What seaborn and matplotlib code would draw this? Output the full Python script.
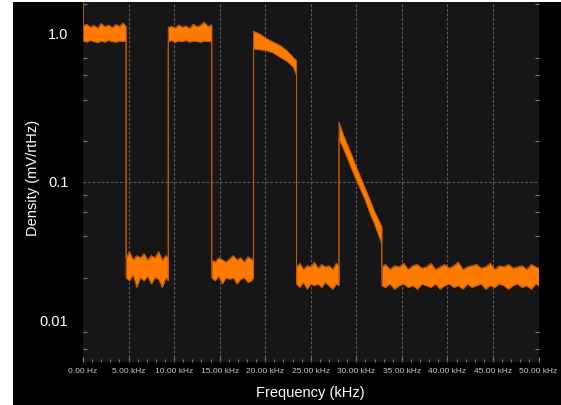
import matplotlib
matplotlib.use("Agg")
import matplotlib.pyplot as plt
import matplotlib.transforms as mtransforms
from matplotlib.patches import Rectangle
from matplotlib.ticker import LogLocator, MultipleLocator, NullFormatter, FixedLocator
import pandas as pd
import seaborn as sns

# ---- data (frequency in kHz, density in mV/rtHz) ----
freq_khz = [
    0.00, 0.03, 0.40, 0.80, 1.20, 1.60, 2.00, 2.40, 2.80, 3.20, 3.60, 4.00, 4.40, 4.73,
    4.73, 5.10, 5.50, 5.90, 6.30, 6.70, 7.10, 7.50, 7.90, 8.30, 8.70, 9.10, 9.36,
    9.36, 9.70, 10.10, 10.50, 10.90, 11.30, 11.70, 12.10, 12.50, 12.90, 13.30, 13.70, 14.13,
    14.13, 14.50, 14.90, 15.30, 15.70, 16.10, 16.50, 16.90, 17.30, 17.70, 18.10, 18.50, 18.72,
    18.72, 19.45, 20.18, 20.91, 21.65, 22.38, 23.11, 23.44,
    23.44, 23.80, 24.20, 24.60, 25.00, 25.40, 25.80, 26.20, 26.60, 27.00, 27.40, 27.80, 28.10,
    28.10, 28.50, 29.00, 29.50, 30.00, 30.50, 31.00, 31.50, 32.00, 32.50, 32.80,
    32.80, 33.20, 33.70, 34.20, 34.70, 35.20, 35.70, 36.20, 36.70, 37.20, 37.70, 38.20,
    38.70, 39.20, 39.70, 40.20, 40.70, 41.20, 41.70, 42.20, 42.70, 43.20, 43.70, 44.20,
    44.70, 45.20, 45.70, 46.20, 46.70, 47.20, 47.70, 48.20, 48.70, 49.20, 49.70, 50.00,
]
upper_mv = [
    3.00, 1.38, 1.42, 1.35, 1.39, 1.33, 1.44, 1.36, 1.40, 1.34, 1.41, 1.37, 1.45, 1.36,
    0.028, 0.031, 0.027, 0.029, 0.028, 0.030, 0.027, 0.029, 0.028, 0.031, 0.027, 0.029, 0.028,
    1.34, 1.37, 1.33, 1.40, 1.35, 1.38, 1.32, 1.42, 1.36, 1.39, 1.47, 1.37, 1.40,
    0.027, 0.026, 0.028, 0.027, 0.026, 0.0275, 0.029, 0.027, 0.028, 0.026, 0.0285, 0.027, 0.028,
    1.26, 1.20, 1.11, 1.05, 0.99, 0.91, 0.81, 0.77,
    0.024, 0.0255, 0.023, 0.0245, 0.024, 0.026, 0.0235, 0.025, 0.024, 0.0245, 0.023, 0.0255, 0.024,
    0.275, 0.228, 0.189, 0.157, 0.129, 0.107, 0.089, 0.074, 0.061, 0.052, 0.047,
    0.024, 0.025, 0.023, 0.0245, 0.024, 0.0255, 0.023, 0.0245, 0.025, 0.0235, 0.024, 0.0255,
    0.023, 0.024, 0.025, 0.0235, 0.0245, 0.026, 0.023, 0.024, 0.0245, 0.025, 0.0235, 0.024,
    0.0255, 0.023, 0.0245, 0.024, 0.025, 0.0235, 0.024, 0.0245, 0.023, 0.025, 0.024, 0.0235,
]
lower_mv = [
    3.00, 1.07, 1.05, 1.08, 1.06, 1.04, 1.07, 1.05, 1.08, 1.06, 1.05, 1.07, 1.06, 1.07,
    0.020, 0.019, 0.021, 0.017, 0.020, 0.019, 0.0205, 0.018, 0.020, 0.0195, 0.017, 0.020, 0.019,
    1.06, 1.08, 1.05, 1.07, 1.06, 1.08, 1.05, 1.07, 1.06, 1.05, 1.07, 1.06, 1.07,
    0.020, 0.019, 0.0205, 0.018, 0.020, 0.0195, 0.020, 0.018, 0.0195, 0.020, 0.0185, 0.019, 0.020,
    0.935, 0.924, 0.909, 0.874, 0.813, 0.760, 0.688, 0.597,
    0.018, 0.017, 0.0185, 0.0165, 0.018, 0.0175, 0.018, 0.017, 0.0185, 0.0175, 0.0165, 0.018, 0.0175,
    0.206, 0.180, 0.150, 0.124, 0.103, 0.087, 0.073, 0.059, 0.049, 0.040, 0.035,
    0.0175, 0.017, 0.018, 0.0165, 0.0175, 0.018, 0.017, 0.0175, 0.0165, 0.018, 0.0175, 0.017,
    0.018, 0.0165, 0.0175, 0.018, 0.017, 0.0175, 0.0165, 0.018, 0.017, 0.0175, 0.018, 0.0165,
    0.0175, 0.017, 0.018, 0.0175, 0.0165, 0.0175, 0.018, 0.017, 0.0175, 0.0165, 0.018, 0.0175,
]

x_tick_values = [0, 5, 10, 15, 20, 25, 30, 35, 40, 45, 50]
x_tick_labels = ["0.00 Hz", "5.00 kHz", "10.00 kHz", "15.00 kHz", "20.00 kHz", "25.00 kHz",
                 "30.00 kHz", "35.00 kHz", "40.00 kHz", "45.00 kHz", "50.00 kHz"]
y_tick_values = [1.0, 0.1, 0.01]
y_tick_labels = ["1.0", "0.1", "0.01"]
y_label_shift_px = [11, 0, -2]

df = pd.DataFrame({"freq": freq_khz, "upper": upper_mv, "lower": lower_mv})

# ---- styling ----
sns.set_theme(style="dark")
plt.rcParams["font.family"] = ["Liberation Sans", "DejaVu Sans"]

W, H = 561, 406
fig = plt.figure(figsize=(W / 100, H / 100), dpi=100, facecolor="white")
fig.add_artist(Rectangle((13 / W, 0), 1 - 13 / W, (H - 3) / H,
                         transform=fig.transFigure, facecolor="black",
                         edgecolor="none", zorder=-10))

ax_l, ax_r, ax_t, ax_b = 83, 538.5, 3, 363
ax = fig.add_axes([ax_l / W, 1 - ax_b / H, (ax_r - ax_l) / W, (ax_b - ax_t) / H])
ax.set_facecolor("#161618")
for s in ax.spines.values():
    s.set_visible(False)

ax.set_yscale("log")
ax.set_xlim(0, 50)
ax.set_ylim(0.00485, 2.06)

# gridlines: vertical at inner kHz ticks, horizontal at 0.1
grid_kw = dict(color="#5c5c5c", lw=0.8, ls=(0, (2.5, 1.6)), zorder=1)
for v in x_tick_values[1:-1]:
    ax.axvline(v, **grid_kw)
ax.axhline(y_tick_values[1], **grid_kw)

# trace
ax.fill_between(df["freq"], df["lower"], df["upper"], color="#ff7b00",
                lw=0, zorder=3)
sns.lineplot(data=df, x="freq", y="upper", estimator=None, sort=False,
             color="#c85a00", lw=0.7, ax=ax, zorder=4)
sns.lineplot(data=df, x="freq", y="lower", estimator=None, sort=False,
             color="#c85a00", lw=0.7, ax=ax, zorder=4)

# x ticks
ax.xaxis.set_major_locator(FixedLocator(x_tick_values))
ax.set_xticklabels(x_tick_labels)
ax.xaxis.set_minor_locator(MultipleLocator(1))
ax.tick_params(axis="x", which="major", direction="in", length=3.5, width=0.8,
               color="#8a8a8a", labelsize=6, labelcolor="#c8c8c8", pad=3.5,
               bottom=True, top=False)
ax.tick_params(axis="x", which="minor", direction="in", length=2, width=0.8,
               color="#7a7a7a", bottom=True, top=False)

# y ticks: minor inward marks on both sides, labels as text
ax.yaxis.set_major_locator(FixedLocator(y_tick_values))
ax.yaxis.set_major_formatter(NullFormatter())
ax.yaxis.set_minor_locator(LogLocator(base=10, subs=[2, 4, 6, 8]))
ax.yaxis.set_minor_formatter(NullFormatter())
ax.tick_params(axis="y", which="major", length=0, left=True, right=True)
ax.tick_params(axis="y", which="minor", direction="in", length=3, width=0.8,
               color="#7a7a7a", left=True, right=True)

ytrans = ax.get_yaxis_transform()
for val, lab, dy in zip(y_tick_values, y_tick_labels, y_label_shift_px):
    t = mtransforms.offset_copy(ytrans, fig=fig, x=-14.5, y=dy, units="dots")
    ax.text(0, val, lab, transform=t, ha="right", va="center",
            color="white", fontsize=10.5)

ax.set_xlabel("Frequency (kHz)", color="white", fontsize=10.5)
ax.xaxis.set_label_coords(0.5, (ax_b - 386) / (ax_b - ax_t))
ax.set_ylabel("Density (mV/rtHz)", color="white", fontsize=10.5, va="center")
ax.yaxis.set_label_coords((33 - ax_l) / (ax_r - ax_l), (ax_b - 177.5) / (ax_b - ax_t))

fig.savefig("out.png", dpi=100, facecolor=fig.get_facecolor())
